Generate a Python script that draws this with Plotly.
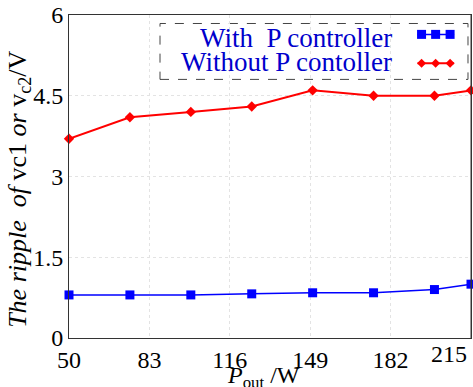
import plotly.graph_objects as go

# Output power (W) and capacitor-voltage ripple (V)
power = [50, 75, 100, 125, 150, 175, 200, 215]
ripple_with_p = [0.80, 0.80, 0.80, 0.82, 0.84, 0.84, 0.90, 1.00]
ripple_without_p = [3.70, 4.10, 4.20, 4.30, 4.60, 4.50, 4.50, 4.60]

x_ticks = [50, 83, 116, 149, 182]
y_ticks = [0, 1.5, 3, 4.5, 6]

series_names = ["With  P controller", "Without P contoller"]

SERIF = "Times New Roman"
BLUE = "#0000ff"
RED = "#ff0000"
LEGEND_TEXT = "#0000cc"

fig = go.Figure()

fig.add_trace(go.Scatter(
    x=power, y=ripple_with_p, mode="lines+markers", name=series_names[0],
    line=dict(color=BLUE, width=1.5),
    marker=dict(symbol="square", size=9, color=BLUE),
    cliponaxis=False, showlegend=False,
))
fig.add_trace(go.Scatter(
    x=power, y=ripple_without_p, mode="lines+markers", name=series_names[1],
    line=dict(color=RED, width=2),
    marker=dict(symbol="diamond", size=8, color=RED),
    cliponaxis=False, showlegend=False,
))

fig.update_layout(
    width=473, height=387,
    margin=dict(l=69, r=2, t=15, b=49),
    paper_bgcolor="white", plot_bgcolor="white",
    font=dict(family=SERIF, size=24, color="black"),
    showlegend=False,
    xaxis=dict(
        range=[50, 215], tickvals=x_ticks, ticktext=[str(v) for v in x_ticks],
        ticks="", showline=True, linecolor="#333333", linewidth=1, mirror=True,
        zeroline=False, tickfont=dict(family=SERIF, size=24, color="black"),
        showgrid=True, gridcolor="#e3e3e3", griddash="dot", gridwidth=1,
    ),
    yaxis=dict(
        range=[0, 6], tickvals=y_ticks, ticktext=["0", "1.5", "3", "4.5", "6"],
        ticks="", showline=True, linecolor="#333333", linewidth=1, mirror=True,
        zeroline=False, tickfont=dict(family=SERIF, size=24, color="black"),
        showgrid=True, gridcolor="#e3e3e3", griddash="dot", gridwidth=1,
    ),
)

# Frame line at the right-hand end tick (its label is placed separately)
fig.add_shape(type="line", xref="x", yref="paper", x0=215, x1=215, y0=0, y1=1,
              line=dict(color="#333333", width=1))

# Legend frame
fig.add_shape(
    type="rect", xref="paper", yref="paper",
    x0=0.2264, x1=0.9925, y0=0.8006, y1=0.9737,
    line=dict(color="#444444", width=1, dash="dash"), fillcolor="white", layer="below",
)

# Legend key samples (line with three markers each)
key_x = [0.877, 0.912, 0.948]
key_rows = [
    (0.940, BLUE, "M -4.5 -4.5 L 4.5 -4.5 L 4.5 4.5 L -4.5 4.5 Z", 1.5),
    (0.851, RED, "M -4.5 0 L 0 4.5 L 4.5 0 L 0 -4.5 Z", 2),
]
for ky, col, glyph, lw in key_rows:
    fig.add_shape(type="line", xref="paper", yref="paper",
                  x0=key_x[0] - 0.01, x1=key_x[-1] + 0.01, y0=ky, y1=ky,
                  line=dict(color=col, width=lw))
    for kx in key_x:
        fig.add_shape(type="path", xref="paper", yref="paper",
                      xsizemode="pixel", ysizemode="pixel",
                      xanchor=kx, yanchor=ky, path=glyph,
                      line=dict(width=0), fillcolor=col)

annotations = [
    dict(text=series_names[0].replace("  ", "&nbsp;&nbsp;"), x=0.808, y=0.929,
         xanchor="right", yanchor="middle",
         font=dict(family=SERIF, size=27, color=LEGEND_TEXT)),
    dict(text=series_names[1], x=0.808, y=0.854, xanchor="right", yanchor="middle",
         font=dict(family=SERIF, size=27, color=LEGEND_TEXT)),
    # label of the right-hand end tick, kept inside the canvas
    dict(text="215", x=1, y=0, xanchor="right", yanchor="top", xshift=-2, yshift=-1,
         font=dict(family=SERIF, size=24, color="black")),
    dict(text="<i>P</i><sub>out</sub> /W", x=0.483, y=-0.122, xanchor="center",
         yanchor="middle", font=dict(family=SERIF, size=24, color="black")),
    dict(text="<i>The ripple&nbsp;&nbsp;of </i>vc1<i> or </i>v<sub>c2</sub>/V",
         x=-0.125, y=0.461, xanchor="center", yanchor="middle", textangle=-90,
         font=dict(family=SERIF, size=26, color="black")),
]
for a in annotations:
    fig.add_annotation(xref="paper", yref="paper", showarrow=False, **a)

fig.write_html("out.html")
